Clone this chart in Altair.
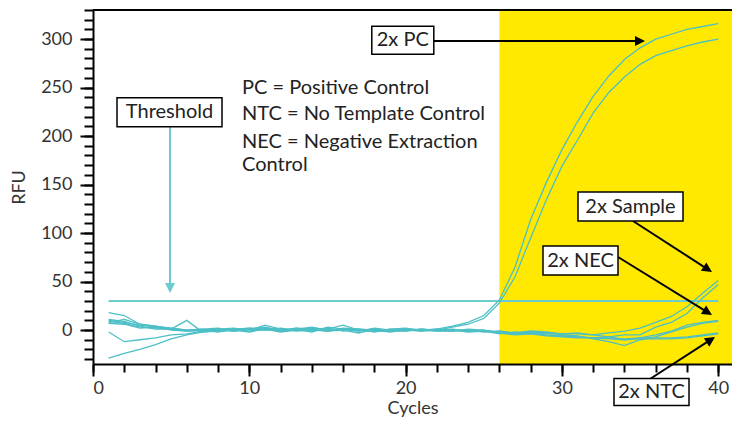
import math
import altair as alt
import pandas as pd

# ---------------- data ----------------
cycles = list(range(1, 41))
pc_1 = [10, 8, 5, 3, 2, 0, 1, 2, -1, 1, 3, 0, 2, 1, -1, 2, 1, 0, -1, 1,
        0, 1, 4, 8, 15, 31, 65, 114, 152, 186, 215, 241, 262, 279, 291, 300, 305, 310, 313, 316]
pc_2 = [8, 11, 6, 4, 1, -1, 0, -2, 1, 2, 1, -1, 1, 3, 0, 1, -1, 1, 0, -1,
        1, 0, 3, 6, 12, 28, 55, 95, 134, 169, 196, 224, 245, 261, 274, 283, 288, 293, 297, 300]
sample_1 = [18, 15, 6, 4, 2, 0, -1, 1, 2, 0, 5, 1, 0, 2, 1, 5, 0, -1, 1, 2,
            0, -1, 0, -2, -1, -2, -3, -1, -2, -4, -4, -5, -3, -1, 2, 8, 14, 24, 38, 51]
sample_2 = [11, 9, 4, 1, 1, 10, -2, 0, 1, -1, 2, 0, 1, -2, 3, 1, -1, 2, 0, 1,
            -1, 0, 1, -1, 0, -3, -4, -2, -5, -6, -7, -8, -7, -5, -5, 3, 8, 17, 33, 47]
nec_1 = [9, 7, 3, 2, 1, 0, 1, -1, 0, 2, 1, -2, 0, 1, -1, 0, -3, 1, 0, -1,
         1, 0, -1, 0, -2, -1, -3, -2, -3, -5, -6, -9, -12, -16, -10, -7, -2, 3, 7, 9]
nec_2 = [7, 6, 2, 3, 0, -1, 0, 1, -1, 1, 0, 1, -1, 0, 2, -1, 1, 0, -2, 0,
         0, 1, 0, -1, -1, -4, -2, -4, -3, -4, -3, -5, -7, -10, -8, -5, -1, 5, 8, 10]
ntc_1 = [-2, -12, -10, -8, -5, -4, -1, 0, -1, 1, 0, 2, 0, -1, 1, 0, 1, -2, 1, 0,
         -1, 1, 0, 0, -1, -2, -4, -3, -5, -6, -7, -8, -8, -9, -8, -8, -8, -7, -5, -3]
ntc_2 = [-29, -24, -20, -15, -9, -5, -2, -1, 0, -2, 1, -1, 2, 0, -1, 1, 0, -1, -1, 0,
         1, -1, -1, 1, 0, -3, -5, -4, -6, -7, -8, -8, -9, -10, -9, -9, -9, -8, -6, -4]

series = {"PC 1": pc_1, "PC 2": pc_2, "Sample 1": sample_1, "Sample 2": sample_2,
          "NEC 1": nec_1, "NEC 2": nec_2, "NTC 1": ntc_1, "NTC 2": ntc_2}

threshold_value = 30
threshold_from, threshold_to = 1, 40
shade_start = 26

x_major_ticks = [0, 10, 20, 30, 40]
x_minor_ticks = list(range(0, 42, 2))
y_major_ticks = [0, 50, 100, 150, 200, 250, 300]
y_minor_ticks = list(range(-30, 331, 10))

legend_lines = ["PC = Positive Control", "NTC = No Template Control",
                "NEC = Negative Extraction", "Control"]
box_labels = ["Threshold", "2x PC", "2x Sample", "2x NEC", "2x NTC"]

# ---------------- layout helpers ----------------
W, H = 639, 354
X_MAX = 40.88
Y_MIN, Y_MAX = -35, 330
PAD = {"left": 85, "top": 2, "right": 0, "bottom": 53}
X0, Y0 = 8 + PAD["left"], 8 + PAD["top"]


def dx(px):
    return (px - X0) * X_MAX / W


def dy(py):
    return Y_MAX - (py - Y0) * (Y_MAX - Y_MIN) / H


TEAL = "#4DBFC6"
TEAL_T = "#6CCBCC"
YELLOW = "#FFE900"
FONT = "Lato"
TXT = "#222222"

xs = alt.Scale(domain=[0, X_MAX], nice=False, zero=False)
ys = alt.Scale(domain=[Y_MIN, Y_MAX], nice=False, zero=False)

common_axis = dict(grid=False, zindex=1, domainColor="black", domainWidth=2,
                   tickColor="black", tickWidth=2, labelFont=FONT, labelFontSize=18,
                   labelColor="#333333", titleFont=FONT, titleFontSize=18,
                   titleFontWeight="normal", titleColor="#333333")

x_major = alt.Axis(values=x_major_ticks, tickSize=12, title="Cycles", orient="bottom",
                   labelPadding=3, titlePadding=2, **common_axis)
x_minor = alt.Axis(values=x_minor_ticks, tickSize=8, labels=False, title=None,
                   domain=False, orient="bottom", **common_axis)
y_major = alt.Axis(values=y_major_ticks, tickSize=13, title="RFU", orient="left",
                   labelPadding=8, titlePadding=12, **common_axis)
y_minor = alt.Axis(values=y_minor_ticks, tickSize=9, labels=False, title=None,
                   domain=False, orient="left", **common_axis)

# ---------------- tables ----------------
rows = []
for name, vals in series.items():
    for c, v in zip(cycles, vals):
        rows.append({"cycle": c, "rfu": v, "series": name})
curves = pd.DataFrame(rows)

shade = alt.Chart(pd.DataFrame({"x": [shade_start]})).mark_rect(color=YELLOW).encode(
    x=alt.X("x:Q", scale=xs, axis=None),
    x2=alt.value(W),
    y=alt.value(0),
    y2=alt.value(H),
)

thr = alt.Chart(pd.DataFrame({"a": [threshold_from], "b": [threshold_to],
                              "v": [threshold_value]})).mark_rule(
    color=TEAL_T, strokeWidth=2).encode(
    x=alt.X("a:Q", scale=xs, axis=x_minor),
    x2="b:Q",
    y=alt.Y("v:Q", scale=ys, axis=y_minor),
)

lines = alt.Chart(curves).mark_line(color=TEAL, strokeWidth=1.3).encode(
    x=alt.X("cycle:Q", scale=xs, axis=x_major),
    y=alt.Y("rfu:Q", scale=ys, axis=y_major),
    detail="series:N",
)

# annotation boxes: (centre px x, centre px y, w, h)
box_geom = [(169.5, 112.2, 105, 29), (402.8, 40.2, 62, 28), (630.5, 206.5, 105, 29),
            (580.5, 260.5, 75, 29), (651.5, 392, 75, 27)]
boxes = pd.DataFrame([
    {"label": lab, "x": dx(cx - w / 2), "x2": dx(cx + w / 2),
     "y": dy(cy - h / 2), "y2": dy(cy + h / 2), "tx": dx(cx), "ty": dy(cy)}
    for lab, (cx, cy, w, h) in zip(box_labels, box_geom)
])

# arrows: start px, tip px, colour
arrow_geom = [((170, 127), (170, 293), TEAL_T), ((434, 41), (645, 41), "black"),
              ((633, 221), (712, 272), "black"), ((618, 257), (712, 315), "black"),
              ((650, 379), (715, 337), "black")]
arr_rows = []
for (sx, sy), (tx, ty), col in arrow_geom:
    L = math.hypot(tx - sx, ty - sy)
    ux, uy = (tx - sx) / L, (ty - sy) / L
    hx, hy = tx - ux * 5, ty - uy * 5
    ang = math.degrees(math.atan2(ux, -uy)) % 360
    arr_rows.append({"x": dx(sx), "y": dy(sy), "x2": dx(hx), "y2": dy(hy),
                     "hx": dx(hx), "hy": dy(hy), "angle": ang, "col": col})
arrows = pd.DataFrame(arr_rows)

arrow_lines = alt.Chart(arrows).mark_rule(strokeWidth=2).encode(
    x=alt.X("x:Q", scale=xs, axis=None), x2="x2:Q",
    y=alt.Y("y:Q", scale=ys, axis=None), y2="y2:Q",
    color=alt.Color("col:N", scale=None, legend=None),
)
arrow_heads = alt.Chart(arrows).mark_point(
    shape="M0,-1L1,1L-1,1Z", size=100, filled=True, opacity=1, strokeWidth=0).encode(
    x=alt.X("hx:Q", scale=xs, axis=None),
    y=alt.Y("hy:Q", scale=ys, axis=None),
    angle=alt.Angle("angle:Q", scale=None),
    color=alt.Color("col:N", scale=None, legend=None),
)

box_rects = alt.Chart(boxes).mark_rect(fill="white", stroke="black", strokeWidth=1.5).encode(
    x=alt.X("x:Q", scale=xs, axis=None), x2="x2:Q",
    y=alt.Y("y:Q", scale=ys, axis=None), y2="y2:Q",
)
box_text = alt.Chart(boxes).mark_text(font=FONT, fontSize=20, color=TXT,
                                      align="center", baseline="middle").encode(
    x=alt.X("tx:Q", scale=xs, axis=None),
    y=alt.Y("ty:Q", scale=ys, axis=None),
    text="label:N",
)

legend_df = pd.DataFrame({"text": legend_lines,
                          "x": [dx(242)] * 4,
                          "y": [dy(87.7), dy(114), dy(141.7), dy(165)]})
legend_text = alt.Chart(legend_df).mark_text(font=FONT, fontSize=20, color=TXT,
                                             align="left", baseline="middle").encode(
    x=alt.X("x:Q", scale=xs, axis=None),
    y=alt.Y("y:Q", scale=ys, axis=None),
    text="text:N",
)

top_border = alt.Chart(alt.Data(values=[{}])).mark_rule(color="black", strokeWidth=2).encode(
    x=alt.value(0), x2=alt.value(W), y=alt.value(0)
)

chart = alt.layer(
    shade, thr, lines, arrow_lines, arrow_heads, box_rects, box_text, legend_text, top_border
).resolve_axis(x="independent", y="independent").properties(
    width=W, height=H, padding=PAD,
    autosize=alt.AutoSizeParams(type="none"),
).configure_view(stroke=None).configure(background="white")

chart.save("out.html", embed_options={"renderer": "svg", "actions": False})
